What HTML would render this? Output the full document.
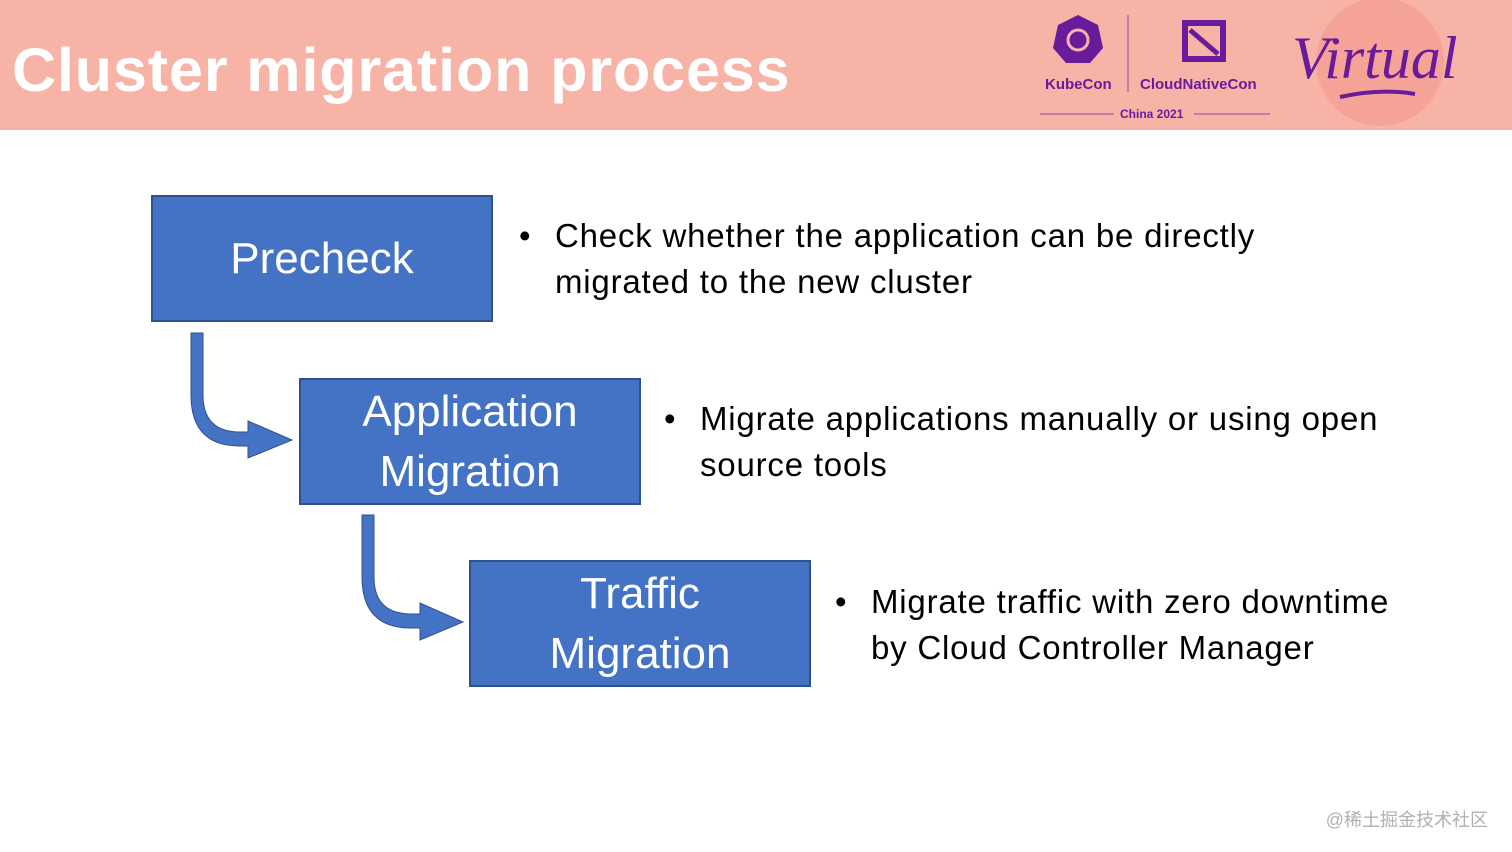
<!DOCTYPE html>
<html><head><meta charset="utf-8"><style>
body{margin:0;width:1512px;height:852px;background:#fff;position:relative;overflow:hidden;font-family:"Liberation Sans","Noto Sans CJK SC",sans-serif}
.hdr{position:absolute;left:0;top:0;width:1512px;height:130px;background:#f8b3a7}
.title{position:absolute;left:12px;top:35px;color:#fff;font-weight:bold;font-size:61px;letter-spacing:0.9px}
.box{position:absolute;background:#4472c4;border:2px solid #2f528f;color:#fff;text-align:center;display:flex;align-items:center;justify-content:center;font-size:44px;line-height:60px;box-sizing:border-box}
.b{position:absolute;font-size:33px;color:#000;line-height:46px;letter-spacing:0.8px}
.b:before{content:"•";position:absolute;left:-36px}
.wm{position:absolute;right:24px;top:806px;color:#b0b0b0;font-size:18px}
</style></head><body>
<div class="hdr">
<svg width="1512" height="130" style="position:absolute;left:0;top:0">
<circle cx="1380" cy="62" r="64" fill="#f5a396"/>
<path d="M1078 15 L1098 25 L1103 48 L1090 63 L1066 63 L1053 48 L1058 25Z" fill="#6a1b9a"/>
<circle cx="1078" cy="40" r="10" fill="none" stroke="#f8b3a7" stroke-width="3"/>
<line x1="1128" y1="15" x2="1128" y2="92" stroke="#8a4aa8" stroke-width="1"/>
<rect x="1182" y="20" width="44" height="42" fill="#6a1b9a"/>
<rect x="1188" y="26" width="32" height="30" fill="#f8b3a7"/>
<line x1="1190" y1="30" x2="1218" y2="54" stroke="#6a1b9a" stroke-width="5"/>
<line x1="1040" y1="114" x2="1114" y2="114" stroke="#8a4aa8"/>
<line x1="1194" y1="114" x2="1270" y2="114" stroke="#8a4aa8"/>
<path d="M1340 97 Q1380 88 1415 94" stroke="#6a1b9a" stroke-width="4" fill="none"/>
<text x="1045" y="89" font-family="Liberation Sans" font-weight="bold" font-size="15" fill="#6a1b9a">KubeCon</text>
<text x="1140" y="89" font-family="Liberation Sans" font-weight="bold" font-size="15" fill="#6a1b9a">CloudNativeCon</text>
<text x="1120" y="118" font-family="Liberation Sans" font-weight="bold" font-size="12" fill="#6a1b9a">China 2021</text>
<text x="1292" y="78" font-family="Liberation Serif" font-style="italic" font-size="60" fill="#6a1b9a">Virtual</text>
</svg>
<div class="title">Cluster migration process</div>
</div>
<svg width="1512" height="852" style="position:absolute;left:0;top:0">
<path d="M191 333 H203 V395 Q203 432 240 432 H248 V421 L292 440 L248 458 V446 H240 Q191 446 191 395Z" fill="#4472c4" stroke="#2f528f" stroke-width="1"/>
<path d="M362 515 H374 V577 Q374 614 411 614 H420 V603 L463 622 L420 640 V628 H411 Q362 628 362 577Z" fill="#4472c4" stroke="#2f528f" stroke-width="1"/>
</svg>
<div class="box" style="left:151px;top:195px;width:342px;height:127px">Precheck</div>
<div class="box" style="left:299px;top:378px;width:342px;height:127px">Application<br>Migration</div>
<div class="box" style="left:469px;top:560px;width:342px;height:127px">Traffic<br>Migration</div>
<div class="b" style="left:555px;top:213px">Check whether the application can be directly<br>migrated to the new cluster</div>
<div class="b" style="left:700px;top:396px">Migrate applications manually or using open<br>source tools</div>
<div class="b" style="left:871px;top:579px">Migrate traffic with zero downtime<br>by Cloud Controller Manager</div>
<div class="wm">@稀土掘金技术社区</div>
</body></html>
